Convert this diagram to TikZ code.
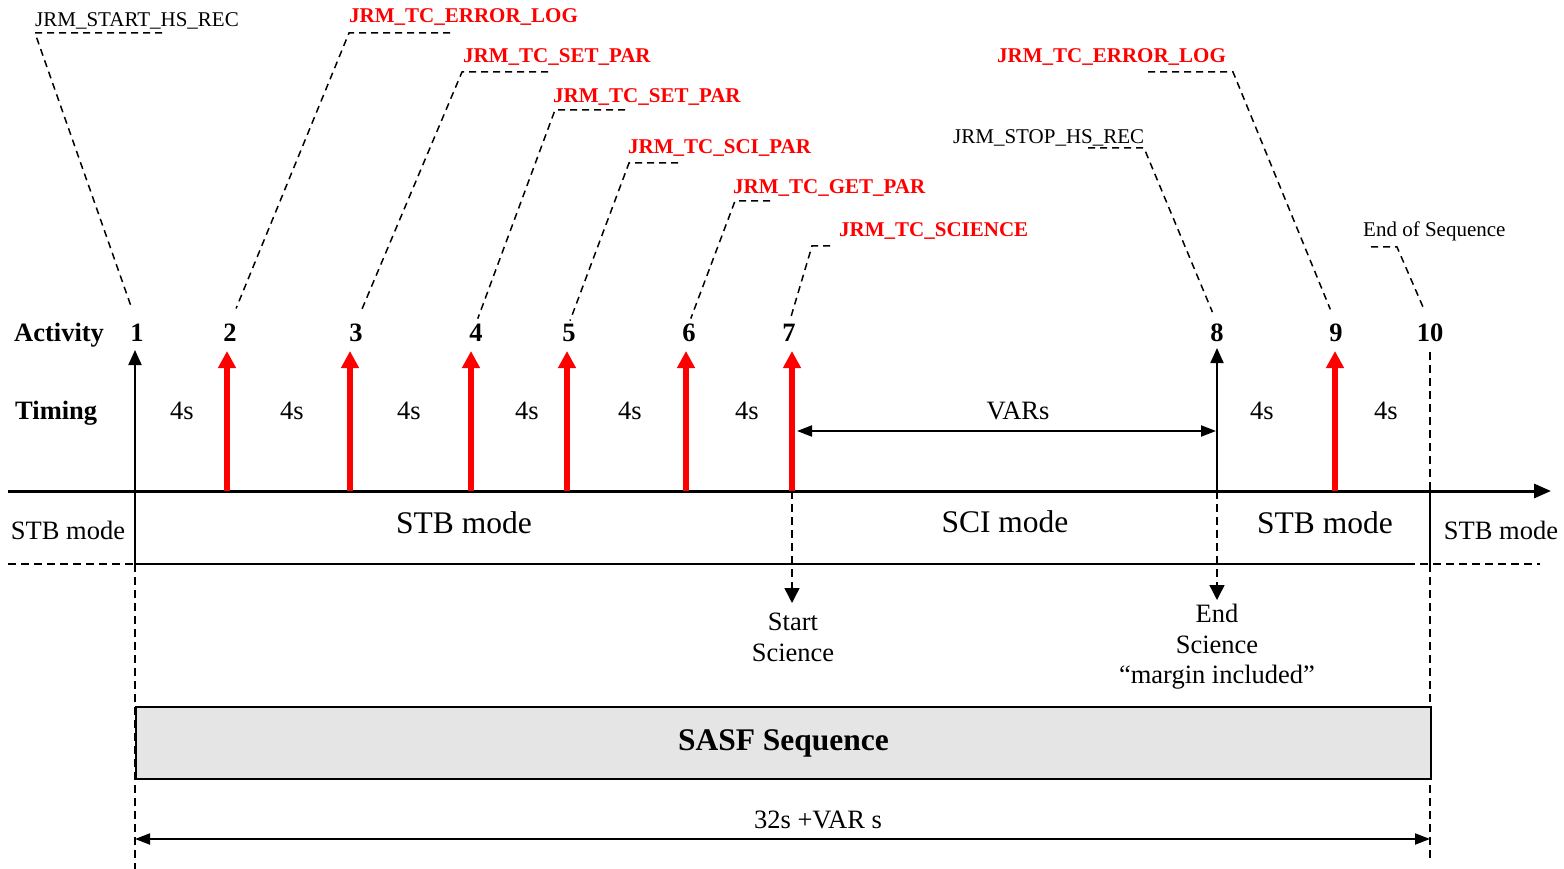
\documentclass[tikz,border=0pt]{standalone}
\usepackage{fontspec}
\setmainfont{Liberation Serif}
\usetikzlibrary{arrows.meta}
\newcommand{\smallsz}{\fontsize{21}{25}\selectfont}
\newcommand{\medsz}{\fontsize{26.5}{30.5}\selectfont}
\newcommand{\bigsz}{\fontsize{31.5}{36}\selectfont}
\tikzset{
  lbl/.style={font=\smallsz, anchor=base west, inner sep=0pt},
  cmd/.style={lbl, font=\smallsz\bfseries, text=red},
  num/.style={font=\medsz\bfseries, anchor=base, inner sep=0pt},
  tm/.style={font=\medsz, anchor=base, inner sep=0pt},
  leader/.style={line width=1.5pt, dash pattern=on 7pt off 5pt},
  guide/.style={line width=1.5pt, dash pattern=on 8pt off 5pt},
  redarrow/.style={red, line width=5.5pt, -{Triangle[length=17pt,width=17pt]}},
  blkarrow/.style={line width=2pt, -{Triangle[length=15pt,width=13pt]}},
  dblarrow/.style={line width=2pt, {Triangle[length=15pt,width=11pt]}-{Triangle[length=15pt,width=11pt]}}
}

\begin{document}
\begin{tikzpicture}[x=1pt,y=-1pt]
  \useasboundingbox (0,0) rectangle (1564,869);

  \node[lbl] (l1) at (35,27) {JRM\_START\_HS\_REC};
  \node[cmd] (l2) at (349,23) {JRM\_TC\_ERROR\_LOG};
  \node[cmd] (l3) at (463,63) {JRM\_TC\_SET\_PAR};
  \node[cmd] (l4) at (553,103) {JRM\_TC\_SET\_PAR};
  \node[cmd] (l5) at (628,154) {JRM\_TC\_SCI\_PAR};
  \node[cmd] (l6) at (733,194) {JRM\_TC\_GET\_PAR};
  \node[cmd] (l7) at (839,237) {JRM\_TC\_SCIENCE};
  \node[lbl] (l8) at (953,144) {JRM\_STOP\_HS\_REC};
  \node[cmd] (l9) at (997,63) {JRM\_TC\_ERROR\_LOG};
  \node[lbl] (l10) at (1363,237) {End of Sequence};

  \node[num, anchor=base west] (act) at (14,341) {Activity};
  \node[num, anchor=base west] (tim) at (15,419) {Timing};
  \node[num] (n1) at (137,341) {1};
  \node[num] (n2) at (230,341) {2};
  \node[num] (n3) at (356,341) {3};
  \node[num] (n4) at (476,341) {4};
  \node[num] (n5) at (569,341) {5};
  \node[num] (n6) at (689,341) {6};
  \node[num] (n7) at (789,341) {7};
  \node[num] (n8) at (1217,341) {8};
  \node[num] (n9) at (1336,341) {9};
  \node[num] (n10) at (1430,341) {10};

  \coordinate (k1) at (35,33);
  \coordinate (k2) at (349,33);
  \coordinate (k3) at (462,72);
  \coordinate (k4) at (555,110);
  \coordinate (k5) at (629,163);
  \coordinate (k6) at (735,201);
  \coordinate (k7) at (812,246);
  \coordinate (k8) at (1144,148);
  \coordinate (k9) at (1233,72);
  \coordinate (k10) at (1397,247);

  \draw[leader, shorten >=19pt] ([xshift=127pt]k1) -- (k1) -- (n1.north);
  \draw[leader, shorten >=16pt] ([xshift=101pt]k2) -- (k2) -- (n2.north);
  \draw[leader, shorten >=13pt] ([xshift=86pt]k3) -- (k3) -- (n3.north);
  \draw[leader, shorten >=5pt] ([xshift=70pt]k4) -- (k4) -- (n4.north);
  \draw[leader, shorten >=3pt] ([xshift=49pt]k5) -- (k5) -- (n5.north);
  \draw[leader, shorten >=5pt] ([xshift=35pt]k6) -- (k6) -- (n6.north);
  \draw[leader, shorten >=5pt] ([xshift=18pt]k7) -- (k7) -- (n7.north);
  \draw[leader, shorten >=12pt] ([xshift=-56pt]k8) -- (k8) -- (n8.north);
  \draw[leader, shorten >=15pt] ([xshift=-85pt]k9) -- (k9) -- (n9.north);
  \draw[leader, shorten >=16pt] ([xshift=-26pt]k10) -- (k10) -- (n10.north);

  \draw[guide] (135,564) -- (135,869);
  \draw[guide] (1430,352) -- (1430,491);
  \draw[guide] (1430,564) -- (1430,860);
  \draw[guide] (8,564) -- (135,564);
  \draw[guide] (1407,564) -- (1540,564);

  \draw[line width=2pt] (135,491) -- (135,564) -- (1407,564);
  \draw[line width=2pt] (1430,491) -- (1430,564);

  \coordinate (a1) at (135,491);
  \coordinate (a2) at (227,491);
  \coordinate (a3) at (350,491);
  \coordinate (a4) at (471,491);
  \coordinate (a5) at (567,491);
  \coordinate (a6) at (686,491);
  \coordinate (a7) at (792,491);
  \coordinate (a8) at (1217,491);
  \coordinate (a9) at (1335,491);

  \coordinate (h1) at (135,350);
  \coordinate (h2) at (227,351);
  \coordinate (h3) at (350,351);
  \coordinate (h4) at (471,351);
  \coordinate (h5) at (567,351);
  \coordinate (h6) at (686,351);
  \coordinate (h7) at (792,351);
  \coordinate (h8) at (1217,348);
  \coordinate (h9) at (1335,351);

  \draw[line width=3pt, -{Triangle[length=17pt,width=14pt]}] (8,491) -- (1551,491);

  \draw[blkarrow] (a1) -- (h1);
  \draw[redarrow] (a2) -- (h2);
  \draw[redarrow] (a3) -- (h3);
  \draw[redarrow] (a4) -- (h4);
  \draw[redarrow] (a5) -- (h5);
  \draw[redarrow] (a6) -- (h6);
  \draw[redarrow] (a7) -- (h7);
  \draw[blkarrow] (a8) -- (h8);
  \draw[redarrow] (a9) -- (h9);

  \node[tm] (s1) at (182,419) {4s};
  \node[tm] (s2) at (292,419) {4s};
  \node[tm] (s3) at (409,419) {4s};
  \node[tm] (s4) at (527,419) {4s};
  \node[tm] (s5) at (630,419) {4s};
  \node[tm] (s6) at (747,419) {4s};
  \node[tm] (s7) at (1262,419) {4s};
  \node[tm] (s8) at (1386,419) {4s};
  \node[tm] (vars) at (1018,419) {VARs};
  \coordinate (v1) at (797,431);
  \coordinate (v2) at (1216,431);
  \draw[dblarrow] (v1) -- (v2);

  \node[font=\bigsz, anchor=base, inner sep=0pt] (m1) at (464,533) {STB mode};
  \node[font=\bigsz, anchor=base, inner sep=0pt] (m2) at (1005,532) {SCI mode};
  \node[font=\bigsz, anchor=base, inner sep=0pt] (m3) at (1325,533) {STB mode};
  \node[tm] (m0) at (68,539) {STB mode};
  \node[tm] (m4) at (1501,539) {STB mode};

  \coordinate (d7) at (792,603);
  \coordinate (d8) at (1217,600);
  \draw[guide, -{Triangle[length=15pt,width=15pt]}] (a7) -- (d7);
  \draw[guide, -{Triangle[length=15pt,width=15pt]}] (a8) -- (d8);
  \node[font=\medsz, align=center, anchor=north, inner sep=0pt] (start) at (793,613) {Start\\Science};
  \node[font=\medsz, align=center, anchor=north, inner sep=0pt] (end) at (1217,604) {End\\Science\\“margin included”};

  \node[draw, line width=2pt, fill=black!10, minimum width=1295pt, minimum height=72pt,
        anchor=north west, font=\bigsz\bfseries] (sasf) at (135,706) {SASF Sequence};

  \coordinate (b1) at (135,839);
  \coordinate (b2) at (1430,839);
  \draw[dblarrow] (b1) -- (b2);
  \node[tm] (total) at (818,828) {32s +VAR s};
\end{tikzpicture}
\end{document}
